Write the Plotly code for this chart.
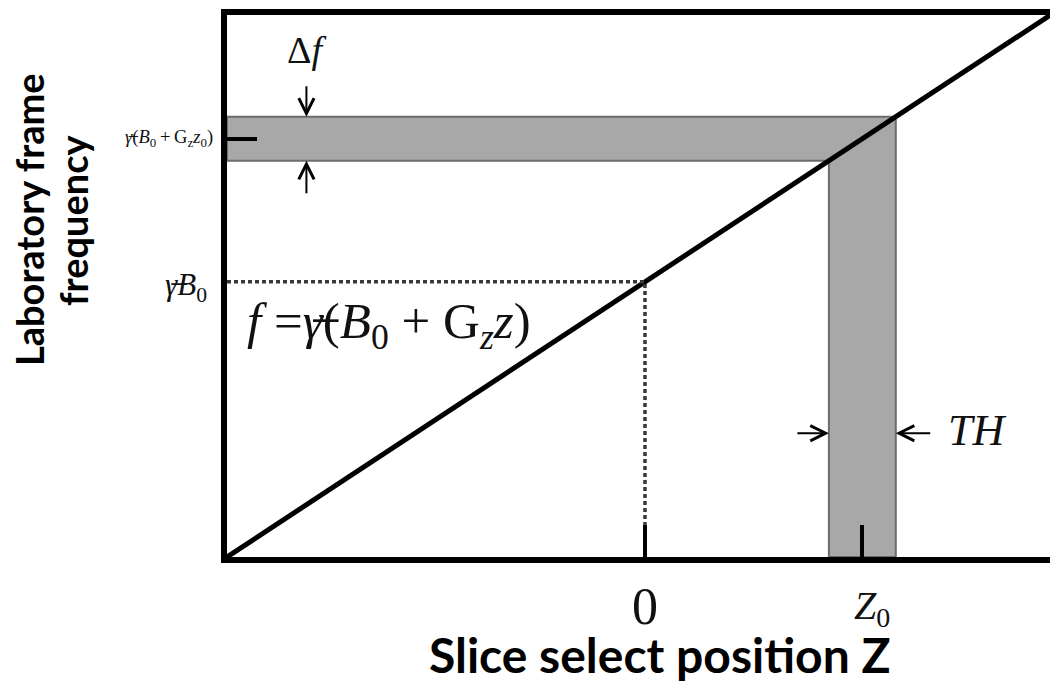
import plotly.graph_objects as go

# Slice-selection diagram: f = gamma_bar * (B0 + Gz * z)
gamma_b0 = 1.0          # Larmor frequency at the isocentre (arbitrary units)
gamma_gz = 1.0          # frequency change per unit position
z_range = [-1.0, 0.969] # slice-select position axis
f_range = [0.0, 1.97]   # laboratory-frame frequency axis
z0 = 0.52               # slice centre position
th = 0.16               # slice thickness

x_tick_vals = [0.0, z0]

def freq(z):
    return gamma_b0 + gamma_gz * z

z_lo, z_hi = z0 - th / 2, z0 + th / 2
f_lo, f_hi = freq(z_lo), freq(z_hi)
zmin, zmax = z_range

SERIF = "Liberation Serif, Times New Roman, serif"
SANS = "Lato, Noto Sans, sans-serif"
INK = "#111111"
GBAR = "<i>γ̶</i>"

fig = go.Figure()

# frequency line
fig.add_trace(go.Scatter(
    x=[zmin, zmax], y=[freq(zmin), freq(zmax)],
    mode="lines", line=dict(color="black", width=5),
    hoverinfo="skip", showlegend=False,
))

# dotted guides to gamma*B0 at z = 0
fig.add_trace(go.Scatter(
    x=[zmin, 0.0, 0.0], y=[gamma_b0, freq(0.0), 0.0],
    mode="lines", line=dict(color="#383838", width=3.5, dash="4px,3px"),
    hoverinfo="skip", showlegend=False,
))

# shaded slice band (frequency band + spatial slab)
path = (f"M {zmin},{f_lo} L {zmin},{f_hi} L {z_hi},{f_hi} L {z_hi},0 "
        f"L {z_lo},0 L {z_lo},{f_lo} Z")
fig.add_shape(type="path", path=path, xref="x", yref="y", layer="below",
              fillcolor="#a8a8a8", line=dict(color="#6c6c6c", width=2))

ann = []
# delta-f arrows
arrow = dict(showarrow=True, arrowhead=5, arrowsize=1.5, arrowwidth=2,
             arrowcolor="black", text="", axref="pixel", ayref="pixel")
z_df = -0.81
ann.append(dict(x=z_df, y=f_hi, ax=0, ay=-32, **arrow))
ann.append(dict(x=z_df, y=f_lo, ax=0, ay=34, **arrow))
# thickness arrows
f_th = 0.45
ann.append(dict(x=z_lo, y=f_th, ax=-33, ay=0, **arrow))
ann.append(dict(x=z_hi, y=f_th, ax=36, ay=0, **arrow))

ann.append(dict(x=z_df, y=0.935, xref="x", yref="paper", showarrow=False,
                text="Δ<i>f</i>", font=dict(family=SERIF, size=38, color=INK),
                xanchor="center", yanchor="middle"))
ann.append(dict(x=0, y=freq(z0), xref="paper", yref="y", showarrow=False,
                xshift=-12,
                text=GBAR + "(<i>B</i><sub>0</sub>\u2009+\u2009G<sub>z</sub><i>z</i><sub>0</sub>)",
                font=dict(family=SERIF, size=18.5, color=INK),
                xanchor="right", yanchor="middle"))
ann.append(dict(x=0, y=gamma_b0, xref="paper", yref="y", showarrow=False,
                xshift=-18, yshift=-5, text=GBAR + "<i>B</i><sub>0</sub>",
                font=dict(family=SERIF, size=31, color=INK),
                xanchor="right", yanchor="middle"))
ann.append(dict(x=-0.957, y=0.844, xref="x", yref="y", showarrow=False,
                text="<i>f</i> =" + GBAR + "(<i>B</i><sub>0</sub> + G<sub><i>z</i></sub><i>z</i>)",
                font=dict(family=SERIF, size=51, color=INK),
                xanchor="left", yanchor="middle"))
ann.append(dict(x=z_hi, y=f_th, xref="x", yref="y", showarrow=False,
                xshift=50, yshift=3, text="<i>TH</i>",
                font=dict(family=SERIF, size=44, color=INK),
                xanchor="left", yanchor="middle"))
ann.append(dict(x=0, y=0, xref="x", yref="paper", showarrow=False,
                yshift=-49, text="0",
                font=dict(family=SERIF, size=52, color=INK),
                xanchor="center", yanchor="middle"))
ann.append(dict(x=z0, y=0, xref="x", yref="paper", showarrow=False,
                xshift=10, yshift=-51, text="<i>Z</i><sub>0</sub>",
                font=dict(family=SERIF, size=40, color=INK),
                xanchor="center", yanchor="middle"))
# axis titles
ann.append(dict(x=0.525, y=-0.18, xref="paper", yref="paper", showarrow=False,
                text="<b>Slice select position Z</b>",
                font=dict(family=SANS, size=48, color="black"),
                xanchor="center", yanchor="middle"))
for txt, px in (("Laboratory frame", 29), ("frequency", 73)):
    ann.append(dict(x=(px - 227) / 823, y=(557 - 220) / 542,
                    xref="paper", yref="paper", showarrow=False,
                    text=f"<b>{txt}</b>", textangle=-90,
                    font=dict(family=SANS, size=38, color="black"),
                    xanchor="center", yanchor="middle"))

fig.update_layout(
    width=1050, height=682,
    margin=dict(l=227, r=0, t=15, b=125),
    paper_bgcolor="white", plot_bgcolor="white",
    showlegend=False,
    annotations=ann,
    xaxis=dict(range=z_range, showgrid=False, zeroline=False,
               showline=True, linecolor="black", linewidth=6, mirror=True,
               tickvals=x_tick_vals, ticks="inside", ticklen=32, tickwidth=4,
               tickcolor="black", showticklabels=False),
    yaxis=dict(range=f_range, showgrid=False, zeroline=False,
               showline=True, linecolor="black", linewidth=6, mirror=False,
               tickvals=[freq(z0)], ticks="inside", ticklen=30, tickwidth=4,
               tickcolor="black", showticklabels=False),
)

fig.write_html("out.html")
